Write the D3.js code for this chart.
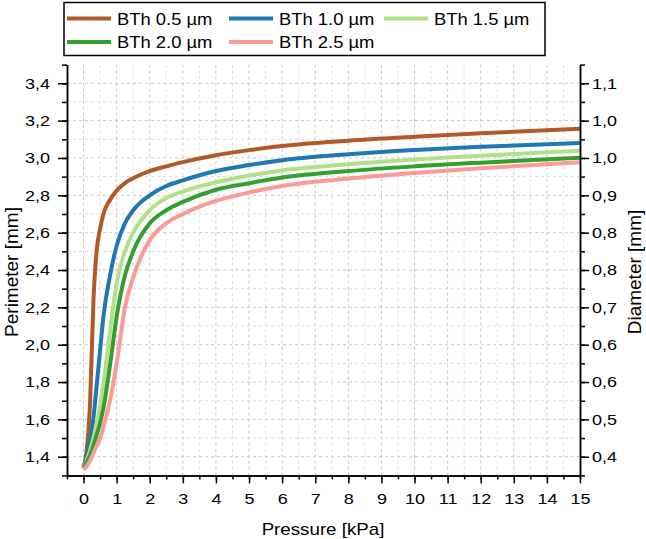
<!DOCTYPE html>
<html>
<head>
<meta charset="utf-8">
<script src="https://cdn.jsdelivr.net/npm/d3@7"></script>
<style>
  body { margin: 0; background: #fff; }
  svg text { font-family: "Liberation Sans", Arial, sans-serif; fill: #000; }
</style>
</head>
<body>
<div id="plot"></div>
<script>
    // values
    const pressure = [0, 0.1, 0.2, 0.3, 0.4, 0.5, 0.6, 0.8, 1.0, 1.25, 1.5, 2, 2.5, 3, 4, 5, 6, 8, 10, 12, 15];
    const bth05 = [1.34, 1.44, 1.70, 2.24, 2.51, 2.62, 2.70, 2.775, 2.825, 2.865, 2.892, 2.93, 2.955, 2.978, 3.015, 3.042, 3.064, 3.092, 3.113, 3.132, 3.157];
    const bth10 = [1.34, 1.40, 1.49, 1.61, 1.79, 1.97, 2.15, 2.37, 2.53, 2.65, 2.72, 2.80, 2.85, 2.88, 2.93, 2.962, 2.988, 3.02, 3.043, 3.06, 3.08];
    const bth15 = [1.34, 1.38, 1.436, 1.50, 1.58, 1.67, 1.79, 2.07, 2.33, 2.50, 2.60, 2.72, 2.785, 2.82, 2.87, 2.905, 2.933, 2.966, 2.992, 3.012, 3.039];
    const bth20 = [1.34, 1.37, 1.41, 1.46, 1.52, 1.58, 1.66, 1.89, 2.15, 2.37, 2.50, 2.65, 2.72, 2.765, 2.83, 2.865, 2.895, 2.93, 2.955, 2.975, 3.001];
    const bth25 = [1.33, 1.35, 1.38, 1.42, 1.46, 1.50, 1.56, 1.70, 1.90, 2.20, 2.36, 2.56, 2.65, 2.70, 2.77, 2.815, 2.85, 2.89, 2.92, 2.945, 2.977];

    const seriesNames = ["BTh 0.5 µm", "BTh 1.0 µm", "BTh 1.5 µm", "BTh 2.0 µm", "BTh 2.5 µm"];
    const seriesValues = [bth05, bth10, bth15, bth20, bth25];
    const colors = ["#b15928", "#1f78b4", "#b2df8a", "#33a02c", "#fb9a99"];

    const xTicks = d3.range(0, 16);
    const xTickLabels = xTicks.map(String);
    const yTicks = [1.4, 1.6, 1.8, 2.0, 2.2, 2.4, 2.6, 2.8, 3.0, 3.2, 3.4];
    const yTickLabels = ["1,4", "1,6", "1,8", "2,0", "2,2", "2,4", "2,6", "2,8", "3,0", "3,2", "3,4"];
    const diameterLabels = ["0,4", "0,5", "0,6", "0,6", "0,7", "0,8", "0,8", "0,9", "1,0", "1,0", "1,1"];

    const plotLeft = 67, plotRight = 580, plotTop = 64.6, plotBottom = 475.4;

    const svg = d3.select("div#plot")
      .append("svg")
        .attr("width", 646)
        .attr("height", 539);

    const xScale = d3.scaleLinear()
      .domain([-0.5, 15])
      .range([plotLeft, plotRight]);

    const yScale = d3.scaleLinear()
      .domain([1.3, 3.5])
      .range([plotBottom, plotTop]);

    // text in the picture is a bit wider than it is tall
    function stretch(sel, sx) {
      sel.each(function() {
        const t = d3.select(this);
        const x = +t.attr("x") || 0;
        const y = +t.attr("y") || 0;
        t.attr("x", 0).attr("y", 0)
          .attr("transform", `translate(${x},${y}) scale(${sx},1)`);
      });
    }

    // grid
    const grid = svg.append("g");
    grid.selectAll(".vgrid")
      .data(d3.range(0, 15, 0.5))
      .enter()
      .append("line")
        .attr("x1", d => xScale(d))
        .attr("x2", d => xScale(d))
        .attr("y1", plotTop)
        .attr("y2", plotBottom)
        .attr("stroke", d => d % 1 === 0 ? "#c6c6c6" : "#dedede")
        .attr("stroke-width", 1)
        .attr("stroke-dasharray", "3,3");

    grid.selectAll(".hgrid")
      .data(d3.range(14, 35).map(d => d / 10))
      .enter()
      .append("line")
        .attr("x1", plotLeft)
        .attr("x2", plotRight)
        .attr("y1", d => yScale(d))
        .attr("y2", d => yScale(d))
        .attr("stroke", (d, i) => i % 2 === 0 ? "#cbcbcb" : "#dcdcdc")
        .attr("stroke-width", 1)
        .attr("stroke-dasharray", "3,3");

    // curves
    const line = d3.line()
      .x((d, i) => xScale(pressure[i]))
      .y(d => yScale(d))
      .curve(d3.curveMonotoneX);

    svg.selectAll(".curve")
      .data(seriesValues)
      .enter()
      .append("path")
        .attr("class", "curve")
        .attr("d", d => line(d))
        .attr("fill", "none")
        .attr("stroke", (d, i) => colors[i])
        .attr("stroke-width", 4);

    // axes
    const minorY = d3.range(13, 36).map(d => d / 10);
    const minorX = d3.range(-0.5, 15.01, 0.5);

    function styleAxis(g) {
      g.select(".domain").attr("stroke", "#000").attr("stroke-width", 1.5);
      g.selectAll(".tick line").attr("stroke", "#000").attr("stroke-width", 1.5);
    }

    const xAxis = d3.axisBottom(xScale)
      .tickValues(xTicks)
      .tickSize(8)
      .tickSizeOuter(0)
      .tickFormat((d, i) => xTickLabels[i]);

    const xMinor = d3.axisBottom(xScale)
      .tickValues(minorX)
      .tickSize(4)
      .tickSizeOuter(0)
      .tickFormat("");

    svg.append("g")
      .attr("transform", `translate(0,${plotBottom})`)
      .call(xMinor)
      .call(styleAxis);

    const gx = svg.append("g")
      .attr("transform", `translate(0,${plotBottom})`)
      .call(xAxis)
      .call(styleAxis);
    gx.selectAll("text")
      .attr("y", 18)
      .style("font-size", "15px")
      .call(stretch, 1.2);

    const yAxis = d3.axisLeft(yScale)
      .tickValues(yTicks)
      .tickSize(9)
      .tickSizeOuter(0)
      .tickFormat((d, i) => yTickLabels[i]);

    const yMinor = d3.axisLeft(yScale)
      .tickValues(minorY)
      .tickSize(5)
      .tickSizeOuter(0)
      .tickFormat("");

    svg.append("g")
      .attr("transform", `translate(${plotLeft},0)`)
      .call(yMinor)
      .call(styleAxis);

    const gy = svg.append("g")
      .attr("transform", `translate(${plotLeft},0)`)
      .call(yAxis)
      .call(styleAxis);
    gy.selectAll("text")
      .attr("x", -17)
      .style("font-size", "15px")
      .call(stretch, 1.2);

    const y2Axis = d3.axisRight(yScale)
      .tickValues(yTicks)
      .tickSize(9)
      .tickSizeOuter(0)
      .tickFormat((d, i) => diameterLabels[i]);

    const y2Minor = d3.axisRight(yScale)
      .tickValues(minorY)
      .tickSize(5)
      .tickSizeOuter(0)
      .tickFormat("");

    svg.append("g")
      .attr("transform", `translate(${plotRight},0)`)
      .call(y2Minor)
      .call(styleAxis);

    const gy2 = svg.append("g")
      .attr("transform", `translate(${plotRight},0)`)
      .call(y2Axis)
      .call(styleAxis);
    gy2.selectAll("text")
      .attr("x", 12)
      .style("font-size", "15px")
      .call(stretch, 1.2);

    // axis titles
    svg.append("text")
      .attr("x", 323)
      .attr("y", 535)
      .attr("text-anchor", "middle")
      .style("font-size", "16px")
      .text("Pressure [kPa]")
      .call(stretch, 1.17);

    svg.append("text")
      .attr("transform", "translate(18,272) rotate(-90)")
      .attr("text-anchor", "middle")
      .style("font-size", "19px")
      .text("Perimeter [mm]");

    svg.append("text")
      .attr("transform", "translate(641,272) rotate(-90)")
      .attr("text-anchor", "middle")
      .style("font-size", "19px")
      .text("Diameter [mm]");

    // legend
    const key = svg.append("g");

    key.append("rect")
      .attr("x", 64)
      .attr("y", 2.5)
      .attr("width", 481)
      .attr("height", 53)
      .attr("fill", "#fff")
      .attr("stroke", "#000")
      .attr("stroke-width", 1.5);

    const keyX = [67, 229, 384, 67, 229];
    const keyY = [18.5, 18.5, 18.5, 42, 42];

    const items = key.selectAll(".item")
      .data(seriesNames)
      .enter()
      .append("g")
        .attr("class", "item")
        .attr("transform", (d, i) => `translate(${keyX[i]},${keyY[i]})`);

    items.append("line")
      .attr("x1", 0)
      .attr("x2", 44)
      .attr("y1", 0)
      .attr("y2", 0)
      .attr("stroke", (d, i) => colors[i])
      .attr("stroke-width", 4);

    items.append("text")
      .attr("x", 50)
      .attr("y", 6)
      .style("font-size", "16px")
      .text(d => d)
      .call(stretch, 1.15);
</script>
</body>
</html>
